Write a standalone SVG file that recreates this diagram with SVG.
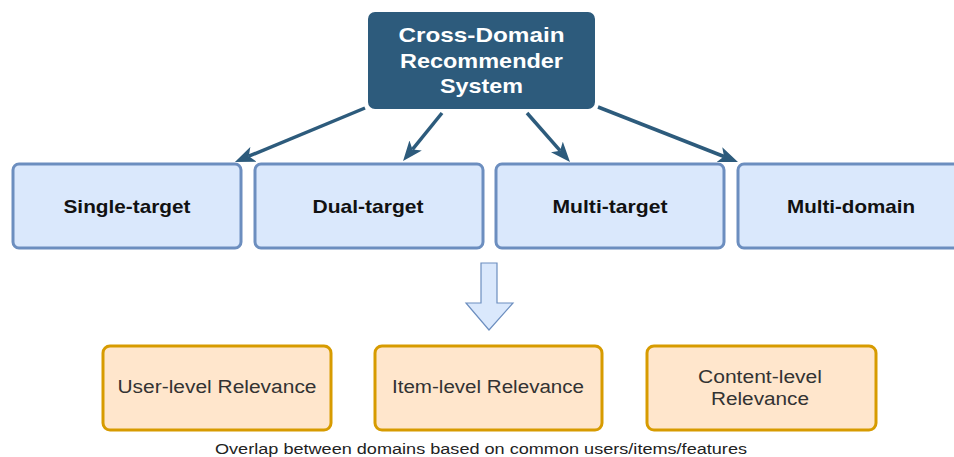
<svg xmlns="http://www.w3.org/2000/svg" width="954" height="457" viewBox="0 0 954 457">
  <style>
    .root-box { fill: #2d5b7c; stroke: #2d5b7c; stroke-width: 2; }
    .root-txt { fill: #ffffff; font-family: "Liberation Sans", Arial, sans-serif; font-weight: bold; font-size: 21px; text-anchor: middle; }
    .type-box { fill: #dae8fc; stroke: #6c8ebf; stroke-width: 3; }
    .type-txt { fill: #111111; font-family: "Liberation Sans", Arial, sans-serif; font-weight: bold; font-size: 18.5px; text-anchor: middle; }
    .rel-box { fill: #ffe6cc; stroke: #d79b00; stroke-width: 3; }
    .rel-txt { fill: #333333; font-family: "Liberation Sans", Arial, sans-serif; font-size: 18px; text-anchor: middle; }
    .caption { fill: #222222; font-family: "Liberation Sans", Arial, sans-serif; font-size: 15.5px; text-anchor: middle; }
    .link { fill: none; stroke: #2d5b7c; stroke-width: 3.5; }
    .flow { fill: #dae8fc; stroke: #6c8ebf; stroke-width: 1.2; }
  </style>
  <defs>
    <marker id="head" markerUnits="userSpaceOnUse" markerWidth="20" markerHeight="16" refX="5" refY="8" orient="auto">
      <path d="M0,0 L20,8 L0,16 L5,8 Z" fill="#2d5b7c"/>
    </marker>
  </defs>

  <rect width="954" height="457" fill="#ffffff"/>

  <!-- connectors from the root to each target type -->
  <g id="connectors">
    <line class="link" x1="365" y1="108" x2="248.8" y2="156.2" marker-end="url(#head)"/>
    <line class="link" x1="442" y1="113" x2="412.5" y2="149.4" marker-end="url(#head)"/>
    <line class="link" x1="527" y1="113" x2="560.1" y2="150.7" marker-end="url(#head)"/>
    <line class="link" x1="598" y1="107" x2="724.0" y2="156.5" marker-end="url(#head)"/>
  </g>

  <g id="root">
    <rect class="root-box" x="369" y="13" width="225" height="95" rx="6"/>
    <text class="root-txt" x="481.5" y="42" textLength="166" lengthAdjust="spacingAndGlyphs">Cross-Domain</text>
    <text class="root-txt" x="481.5" y="68" textLength="163" lengthAdjust="spacingAndGlyphs">Recommender</text>
    <text class="root-txt" x="481.5" y="93" textLength="83" lengthAdjust="spacingAndGlyphs">System</text>
  </g>

  <g id="single-target">
    <rect class="type-box" x="13" y="164" width="228" height="84" rx="6"/>
    <text class="type-txt" x="127" y="213" textLength="127" lengthAdjust="spacingAndGlyphs">Single-target</text>
  </g>
  <g id="dual-target">
    <rect class="type-box" x="255" y="164" width="228" height="84" rx="6"/>
    <text class="type-txt" x="368" y="213" textLength="111" lengthAdjust="spacingAndGlyphs">Dual-target</text>
  </g>
  <g id="multi-target">
    <rect class="type-box" x="496" y="164" width="228" height="84" rx="6"/>
    <text class="type-txt" x="610" y="213" textLength="115" lengthAdjust="spacingAndGlyphs">Multi-target</text>
  </g>
  <g id="multi-domain">
    <rect class="type-box" x="738" y="164" width="228" height="84" rx="6"/>
    <text class="type-txt" x="851" y="213" textLength="128" lengthAdjust="spacingAndGlyphs">Multi-domain</text>
  </g>

  <!-- block arrow leading to the relevance levels -->
  <g id="flow-arrow">
    <polygon class="flow" points="481,263 497,263 497,303 513,303 489,330 466,303 481,303"/>
  </g>

  <g id="user-level">
    <rect class="rel-box" x="103" y="346" width="228" height="84" rx="7"/>
    <text class="rel-txt" x="217" y="393" textLength="199" lengthAdjust="spacingAndGlyphs">User-level Relevance</text>
  </g>
  <g id="item-level">
    <rect class="rel-box" x="375" y="346" width="227" height="84" rx="7"/>
    <text class="rel-txt" x="488" y="393" textLength="192" lengthAdjust="spacingAndGlyphs">Item-level Relevance</text>
  </g>
  <g id="content-level">
    <rect class="rel-box" x="647" y="346" width="229" height="84" rx="7"/>
    <text class="rel-txt" x="760" y="383" textLength="124" lengthAdjust="spacingAndGlyphs">Content-level</text>
    <text class="rel-txt" x="760" y="405" textLength="98" lengthAdjust="spacingAndGlyphs">Relevance</text>
  </g>

  <text class="caption" x="481" y="454" textLength="532" lengthAdjust="spacingAndGlyphs">Overlap between domains based on common users/items/features</text>
</svg>
